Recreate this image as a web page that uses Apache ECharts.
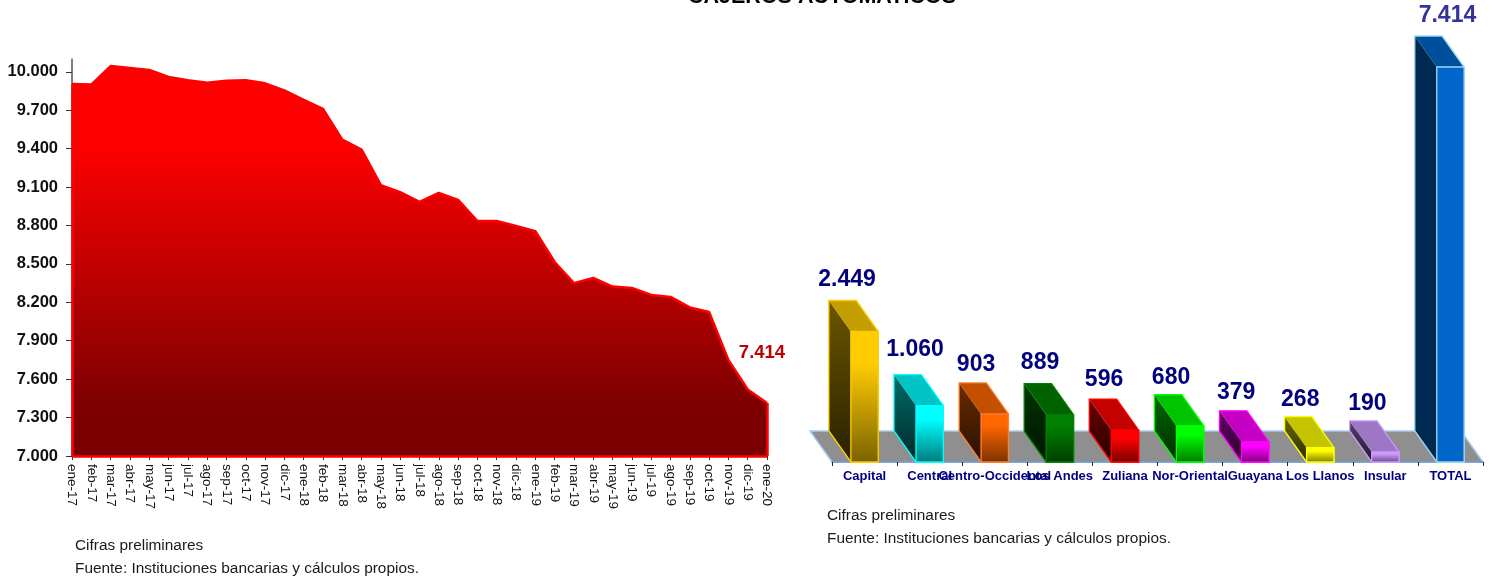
<!DOCTYPE html>
<html><head><meta charset="utf-8">
<style>html,body{margin:0;padding:0;background:#fff}#c{width:1495px;height:579px}</style>
<script src="https://cdn.jsdelivr.net/npm/echarts@6/dist/echarts.min.js"></script>
</head><body><div id="c"></div>
<script>
const months = ['ene-17','feb-17','mar-17','abr-17','may-17','jun-17','jul-17','ago-17','sep-17','oct-17','nov-17','dic-17','ene-18','feb-18','mar-18','abr-18','may-18','jun-18','jul-18','ago-18','sep-18','oct-18','nov-18','dic-18','ene-19','feb-19','mar-19','abr-19','may-19','jun-19','jul-19','ago-19','sep-19','oct-19','nov-19','dic-19','ene-20'];
const cajeros = [9905,9900,10045,10030,10015,9960,9935,9915,9930,9935,9910,9855,9780,9710,9470,9393,9115,9060,8985,9055,9000,8835,8835,8797,8755,8515,8350,8390,8323,8312,8258,8242,8160,8125,7750,7520,7414];
const yTicks = [7000,7300,7600,7900,8200,8500,8800,9100,9400,9700,10000];
const regiones = ['Capital','Central','Centro-Occidental','Los Andes','Zuliana','Nor-Oriental','Guayana','Los Llanos','Insular','TOTAL'];
const porRegion = [2449,1060,903,889,596,680,379,268,190,7414];
const frontColors = ['#ffcc00','#00ffff','#ff6600','#008000','#ff0000','#00ff00','#ff00ff','#ffff00','#cc99ff','#0066cc'];
const edgeColors = ['#ffcc00','#00ffff','#ff7f33','#008000','#ff0000','#00ff00','#ff00ff','#ffff00','#cc99ff','#9fd8ef'];
const labelDx = [-17.5,-14.6,-18.7,-19.8,-20.9,-19,-19,-20,-18,-3];
const labelDy = [-51.5,-55.5,-49,-51.6,-51,-48,-49,-48,-48,-51];

const FONT = '"Liberation Sans", Arial, sans-serif';
const fmt = v => String(v).replace(/\B(?=(\d{3})+$)/g, '.');
function shade(hex, k){
  const n = parseInt(hex.slice(1),16);
  const c = s => Math.round(((n>>s)&255)*k);
  return `rgb(${c(16)},${c(8)},${c(0)})`;
}
const vGrad = stops => ({type:'linear',x:0,y:0,x2:0,y2:1,colorStops:stops.map(s=>({offset:s[0],color:s[1]}))});
const DX = -22, DY = -31;

function renderFloor(params, api){
  const cs = params.coordSys;
  const b = cs.y + cs.height, l = cs.x, r = cs.x + cs.width;
  return {type:'polygon', shape:{points:[[l,b],[r,b],[r+DX,b+DY],[l+DX,b+DY]]},
    style:{fill:'#8f8f8f',stroke:'#a6cdf0',lineWidth:1.5}};
}
function renderBar(params, api){
  const i = api.value(0), v = api.value(1);
  const p = api.coord([i,v]), base = api.coord([i,0])[1];
  const hw = api.size([1,0])[0]*0.42/2;
  const xl = p[0]-hw, xr = p[0]+hw, yt = p[1];
  const col = frontColors[i], edge = edgeColors[i];
  const flat = i === 9;
  const front = flat ? col : vGrad([[0,col],[0.25,col],[1,shade(col,0.48)]]);
  const side = flat ? shade(col,0.4) : vGrad([[0,shade(col,0.42)],[1,shade(col,0.16)]]);
  const top = shade(col,0.77);
  const sw = 1.3;
  return {type:'group',children:[
    {type:'polygon',shape:{points:[[xl,yt],[xl,base],[xl+DX,base+DY],[xl+DX,yt+DY]]},style:{fill:side}},
    {type:'polygon',shape:{points:[[xl,yt],[xr,yt],[xr+DX,yt+DY],[xl+DX,yt+DY]]},style:{fill:top}},
    {type:'polygon',shape:{points:[[xl+DX,yt+DY],[xr+DX,yt+DY],[xr,yt],[xr,base],[xl,base],[xl+DX,base+DY]]},style:{fill:'none',stroke:edge,lineWidth:sw}},
    {type:'rect',shape:{x:xl,y:yt,width:xr-xl,height:base-yt},style:{fill:front,stroke:edge,lineWidth:sw}},
    {type:'text',style:{x:p[0]+labelDx[i],y:yt+labelDy[i],text:fmt(v),fill:i===9?'#333399':'#000080',
      font:'bold 23px '+FONT,align:'center',verticalAlign:'middle'}}
  ]};
}

const chart = echarts.init(document.getElementById('c'),null,{renderer:'canvas'});
const note = (x,y,t)=>({type:'text',left:x,top:y,z:20,style:{text:t,fill:'#1a1a1a',font:'15.4px '+FONT}});
chart.setOption({
  animation:false,
  backgroundColor:'#fff',
  graphic:[
    {type:'text',left:688,top:-14,z:20,style:{text:'CAJEROS AUTOMATICOS',fill:'#000',font:'bold 21.5px '+FONT}},
    note(75,538,'Cifras preliminares'),
    note(75,561,'Fuente: Instituciones bancarias y cálculos propios.'),
    note(827,508,'Cifras preliminares'),
    note(827,531,'Fuente: Instituciones bancarias y cálculos propios.')
  ],
  grid:[
    {left:72,width:695,top:59,height:397},
    {left:832,width:651,top:67,height:395}
  ],
  xAxis:[
    {type:'category',gridIndex:0,data:months,boundaryGap:false,
      axisLine:{lineStyle:{color:'#333',width:1}},
      axisTick:{show:true,length:4,interval:0,lineStyle:{color:'#333'}},
      axisLabel:{interval:0,rotate:-90,fontFamily:FONT,fontSize:13.5,color:'#111',margin:8}},
    {type:'category',gridIndex:1,data:regiones,z:3,
      axisLine:{lineStyle:{color:'#6f93c5',width:1.5}},
      axisTick:{show:true,length:4,interval:0,alignWithLabel:false,lineStyle:{color:'#222'}},
      axisLabel:{interval:0,hideOverlap:false,fontFamily:FONT,fontSize:13,fontWeight:'bold',color:'#000080',margin:8}}
  ],
  yAxis:[
    {type:'value',gridIndex:0,min:7000,max:10100,
      splitLine:{show:false},
      axisLine:{show:true,lineStyle:{color:'#555',width:1.5}},
      axisTick:{show:true,length:6,customValues:yTicks,lineStyle:{color:'#333'}},
      axisLabel:{customValues:yTicks,formatter:fmt,fontFamily:FONT,fontSize:16.5,fontWeight:'bold',color:'#111',margin:14}},
    {type:'value',gridIndex:1,min:0,max:7414,show:false,splitLine:{show:false}}
  ],
  series:[
    {type:'line',xAxisIndex:0,yAxisIndex:0,z:2,symbol:'none',silent:true,
      data:cajeros,
      lineStyle:{color:'#ff0000',width:2.5},
      areaStyle:{opacity:1,color:vGrad([[0,'#ff0000'],[0.2,'#ff0000'],[0.85,'#800000'],[1,'#7a0000']])},
      markPoint:{silent:true,symbol:'circle',symbolSize:0,
        label:{show:true,position:'inside',offset:[-5,-50],formatter:p=>fmt(p.value),color:'#c00000',fontFamily:FONT,fontSize:18.5,fontWeight:'bold'},
        data:[{coord:[months[36],cajeros[36]],value:cajeros[36]}]},
      markLine:{silent:true,symbol:'none',label:{show:false},lineStyle:{color:'#ff0000',width:2.5,type:'solid'},
        data:[
          [{xAxis:months[0],yAxis:7000},{xAxis:months[36],yAxis:7000}],
          [{xAxis:months[0],yAxis:7000},{xAxis:months[0],yAxis:cajeros[0]}],
          [{xAxis:months[36],yAxis:7000},{xAxis:months[36],yAxis:cajeros[36]}]
        ]}},
    {type:'custom',xAxisIndex:1,yAxisIndex:1,z:2,silent:true,data:[[0,0]],renderItem:renderFloor},
    {type:'custom',xAxisIndex:1,yAxisIndex:1,z:4,silent:true,clip:false,
      data:porRegion.map((v,i)=>[i,v]),encode:{x:0,y:1},renderItem:renderBar}
  ]
});
</script></body></html>
